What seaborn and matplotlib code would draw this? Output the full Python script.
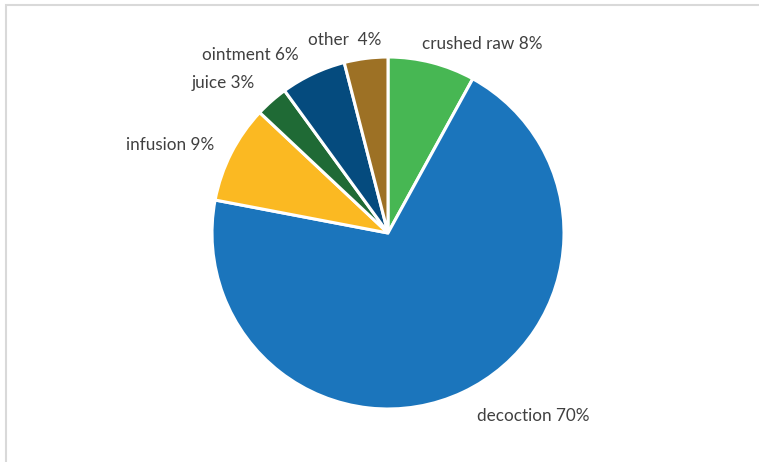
import matplotlib
matplotlib.use("Agg")
import matplotlib.pyplot as plt
import seaborn as sns
import numpy as np
from matplotlib.patches import Rectangle

# ---- data ----
categories = ["crushed raw", "decoction", "infusion", "juice", "ointment", "other"]
values = [8, 70, 9, 3, 6, 4]
label_texts = ["crushed raw 8%", "decoction 70%", "infusion 9%", "juice 3%", "ointment 6%", "other  4%"]

# ---- style ----
colors = ["#47b753", "#1b75bc", "#fbb922", "#1f6a35", "#054b7e", "#9d7125"]
# label offsets (pixels) from the wedge edge at its mid-angle
label_offsets = [(50, 19), (70, -24), (-61, 8), (-48, 18), (-63, 19), (-21, 18)]

sns.set_theme(style="white")
plt.rcParams['font.family'] = ['Lato', 'DejaVu Sans']

W, H, DPI = 759, 462, 100
fig = plt.figure(figsize=(W / DPI, H / DPI), dpi=DPI)
fig.patch.set_facecolor("white")

cx, cy, R = 388, 233, 176
ax = fig.add_axes([(cx - R) / W, (H - cy - R) / H, 2 * R / W, 2 * R / H])
wedges, _ = ax.pie(values, colors=colors, startangle=90, counterclock=False,
                   radius=1.0, wedgeprops=dict(edgecolor="white", linewidth=2.2))
ax.set_xlim(-1, 1)
ax.set_ylim(-1, 1)
ax.set_aspect("equal")
ax.axis("off")

for w, txt, (ox, oy) in zip(wedges, label_texts, label_offsets):
    mid = np.deg2rad((w.theta1 + w.theta2) / 2)
    x = np.cos(mid) + ox / R
    y = np.sin(mid) + oy / R
    ax.text(x, y, txt, ha="center", va="center", fontsize=12.3, color="#404040",
            clip_on=False)

# light frame
fig.patches.append(Rectangle((6 / W, -0.1), 1.2, 1 - 5 / H + 0.1, transform=fig.transFigure,
                             fill=False, edgecolor="#d9d9d9", linewidth=1.5))

fig.savefig("out.png", dpi=DPI, facecolor="white")
